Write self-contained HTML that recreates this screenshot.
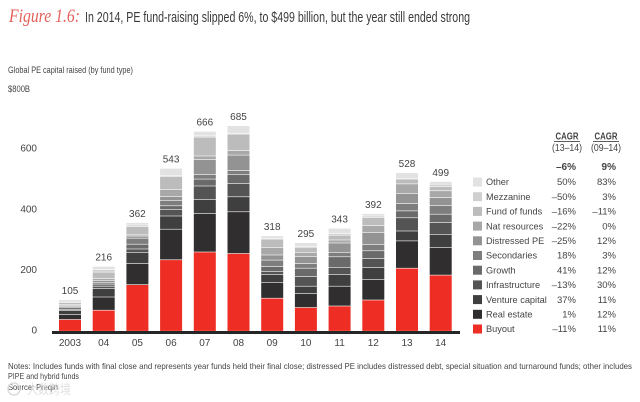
<!DOCTYPE html>
<html lang="en">
<head>
<meta charset="utf-8">
<title>Figure 1.6</title>
<style>
html,body{margin:0;padding:0;background:#fff;width:640px;height:402px;overflow:hidden}
svg{display:block;font-family:"Liberation Sans","Noto Sans CJK SC",sans-serif;filter:blur(0.3px)}
text{fill:#444}
</style>
</head>
<body>
<svg id="chart" width="640" height="402" viewBox="0 0 640 402" xmlns="http://www.w3.org/2000/svg">
<text x="9" y="22" font-family="'Liberation Serif',serif" font-style="italic" font-size="19" style="fill:#e4605a" textLength="71" lengthAdjust="spacingAndGlyphs">Figure 1.6:</text>
<text x="85" y="22" font-size="14.5" style="fill:#3a3a3a" textLength="385" lengthAdjust="spacingAndGlyphs">In 2014, PE fund-raising slipped 6%, to $499 billion, but the year still ended strong</text>
<text x="8" y="73" font-size="8.8" textLength="125" lengthAdjust="spacingAndGlyphs">Global PE capital raised (by fund type)</text>
<text x="8" y="92" font-size="9" textLength="22" lengthAdjust="spacingAndGlyphs">$800B</text>
<g id="yticks"></g>
<g id="bars"></g>
<rect x="52" y="331" width="408" height="3" fill="#262626"></rect>
<g id="legend"></g>
<text x="8" y="369" font-size="8.3" textLength="624" lengthAdjust="spacingAndGlyphs">Notes: Includes funds with final close and represents year funds held their final close; distressed PE includes distressed debt, special situation and turnaround funds; other includes</text>
<text x="8" y="379" font-size="8.3" textLength="71" lengthAdjust="spacingAndGlyphs">PIPE and hybrid funds</text>
<text x="8" y="390" font-size="8.3" textLength="50" lengthAdjust="spacingAndGlyphs">Source: Preqin</text>
<circle cx="14" cy="389" r="6" fill="none" stroke="#dcdcdc" stroke-width="1.5"></circle>
<text x="27" y="394" font-size="13" style="fill:#d8d8d8;opacity:.8" textLength="44" lengthAdjust="spacingAndGlyphs">大数跨境</text>
</svg>
<script>
const years = ['2003','04','05','06','07','08','09','10','11','12','13','14'];
const totals = [105,216,362,543,666,685,318,295,343,392,528,499];
const yTicks = [0,200,400,600];
const seriesNames = ['Buyout','Real estate','Venture capital','Infrastructure','Growth','Secondaries','Distressed PE','Nat resources','Fund of funds','Mezzanine','Other'];
const seriesColors = ['#ee2e24','#302e2e','#3f3f3f','#545454','#6a6a6a','#7e7e7e','#939393','#a8a8a8','#bcbcbc','#d0d0d0','#e2e2e2'];
const buyout = [39,70,155,238,264,259,110,79,84,104,210,187];
const realEstate = [16,44,70,102,128,139,53,46,66,68,91,92];
const ventureCapital = [14,28,38,44,47,50,26,25,39,40,33,44];
const infrastructure = [4,8,11,22,45,44,10,32,24,30,44,39];
const growth = [5,7,16,12,23,31,16,28,35,26,23,28];
const secondaries = [4,6,20,18,15,12,22,15,15,21,24,29];
const distressedPE = [4,6,7,13,50,52,17,24,31,40,34,26];
const natResources = [3,6,4,23,12,15,25,14,10,23,32,23];
const fundOfFunds = [6,22,28,44,63,55,28,17,16,27,16,14];
const mezzanine = [5,8,5,3,4,3,3,3,5,5,2,8];
const other = [5,11,8,24,15,25,8,12,18,8,19,9];
const cagr1314 = ['50%','\u201350%','\u201316%','\u201322%','\u201325%','18%','41%','\u201313%','37%','1%','\u201311%'];
const cagr0914 = ['83%','3%','\u201311%','0%','12%','3%','12%','30%','11%','12%','11%'];
const totalCagr = ['\u20136%','9%'];

const stacks = [buyout,realEstate,ventureCapital,infrastructure,growth,secondaries,distressedPE,natResources,fundOfFunds,mezzanine,other];
const NS = 'http://www.w3.org/2000/svg';
const yScale = v => 331.5 - v * 0.3;
const tickScale = v => 330.5 - v * 0.303;
const xScale = i => 59 + i * 33.7;
const barWidth = 22;
function mk(tag, attrs, parent, txt){
  const n = document.createElementNS(NS, tag);
  for (const k in attrs) n.setAttribute(k, attrs[k]);
  if (txt !== undefined) n.textContent = txt;
  parent.appendChild(n);
  return n;
}
const yG = document.getElementById('yticks');
yTicks.forEach(t => {
  const el = mk('text', {x:37, y:tickScale(t)+3, 'font-size':10, 'text-anchor':'end'}, yG, String(t));
  
  
});
const bG = document.getElementById('bars');
years.forEach((yr, i) => {
  let acc = 0;
  stacks.forEach((s, j) => {
    const y0 = yScale(acc), y1 = yScale(acc + s[i]);
    const r = mk('rect', {x:xScale(i), y:y1, width:barWidth, height:Math.max(y0 - y1 - 0.6, 0.3), fill:seriesColors[j]}, bG);
    
    
    acc += s[i];
  });
  const lab = mk('text', {x:xScale(i)+barWidth/2, y:yScale(totals[i])-6, 'font-size':10, 'text-anchor':'middle'}, bG, String(totals[i]));
  
  
  const xl = mk('text', {x:xScale(i)+barWidth/2, y:346, 'font-size':10, 'text-anchor':'middle'}, bG, yr);
  
  
});
const lG = document.getElementById('legend');
[[567,'(13\u201314)',576,0],[606,'(09\u201314)',616,1]].forEach(c => {
  const h = mk('text', {x:c[0], y:139.5, 'font-size':10, 'font-weight':'bold', 'text-anchor':'middle', textLength:23, lengthAdjust:'spacingAndGlyphs'}, lG, 'CAGR');
  
  
  const u = mk('rect', {x:c[0]-13, y:141, width:26, height:0.8, fill:'#333'}, lG);
  
  
  const p = mk('text', {x:c[0], y:151, 'font-size':10, 'text-anchor':'middle', textLength:30, lengthAdjust:'spacingAndGlyphs'}, lG, c[1]);
  
  
  const tc = mk('text', {x:c[2], y:170, 'font-size':10, 'font-weight':'bold', 'text-anchor':'end'}, lG, totalCagr[c[3]]);
  
  
});
seriesNames.forEach((nm, j) => {
  const row = 10 - j;
  const cy = 182 + row * 14.7;
  const sw = mk('rect', {x:473, y:cy-4.5, width:9, height:9, fill:seriesColors[j]}, lG);
  
  
  const t = mk('text', {x:486, y:cy+3.2, 'font-size':9.2}, lG, nm);
  
  
  const a = mk('text', {x:576, y:cy+3.2, 'font-size':9.5, 'text-anchor':'end'}, lG, cagr1314[row]);
  
  
  const b = mk('text', {x:616, y:cy+3.2, 'font-size':9.5, 'text-anchor':'end'}, lG, cagr0914[row]);
  
  
});
</script>
</body>
</html>
